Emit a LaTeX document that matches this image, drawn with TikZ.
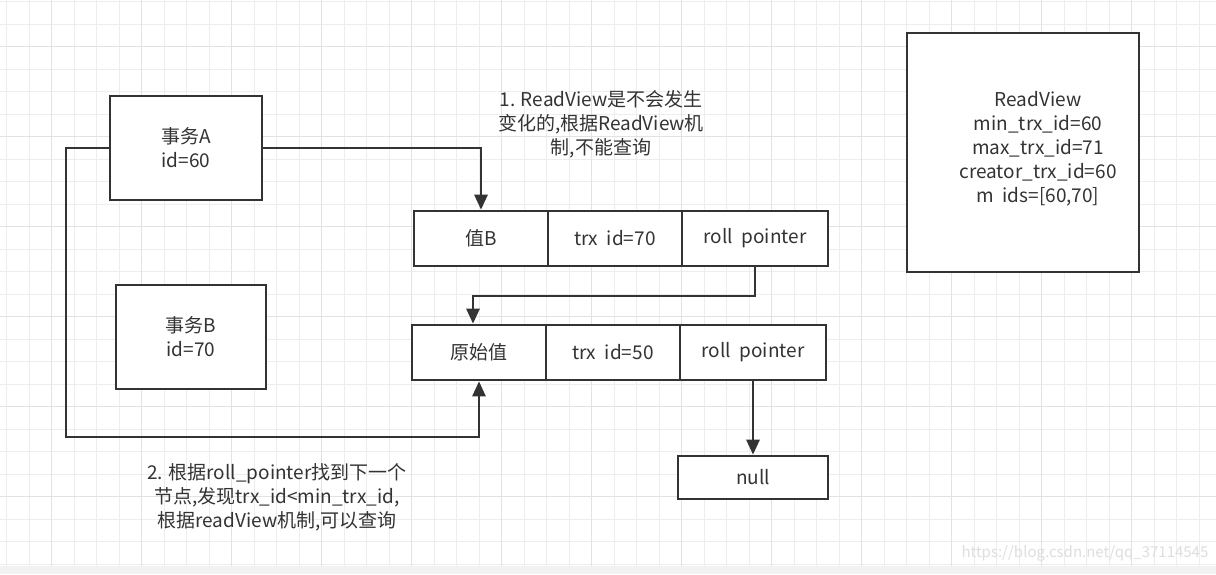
\documentclass[tikz,border=0pt]{standalone}
\usepackage{fontspec}
\newfontfamily\cjk{Noto Sans CJK SC}
\usetikzlibrary{arrows.meta,calc}
\definecolor{ink}{HTML}{333333}
\definecolor{gridminor}{HTML}{EDEDED}
\definecolor{gridmajor}{HTML}{E2E2E2}
\tikzset{
  every node/.style={font=\cjk\fontsize{19}{24}\selectfont, text=ink},
  box/.style={draw=ink, line width=2.6pt, fill=white, rectangle, inner sep=0pt},
  cell/.style={box, minimum height=55pt},
  conn/.style={draw=ink, line width=2.6pt, -{Triangle[length=15pt,width=13pt]}},
  plain/.style={align=center, inner sep=0pt},
}
\begin{document}
\begin{tikzpicture}[x=1pt,y=-1pt]
\useasboundingbox (0,0) rectangle (1216,574);
\fill[white] (0,0) rectangle (1216,574);
% grid
\foreach \i in {0,...,53} {
  \draw[gridminor, line width=1pt] ({6.5+22.5*\i},0) -- ({6.5+22.5*\i},566);
}
\foreach \j in {0,...,25} {
  \draw[gridminor, line width=1pt] (0,{1.7+22.5*\j}) -- (1216,{1.7+22.5*\j});
}
\foreach \i in {0,...,13} {
  \draw[gridmajor, line width=1pt] ({51.5+90*\i},0) -- ({51.5+90*\i},566);
}
\foreach \j in {0,...,6} {
  \draw[gridmajor, line width=1pt] (0,{46.7+90*\j}) -- (1216,{46.7+90*\j});
}
\fill[black!5] (0,566) rectangle (1216,574);

% transaction boxes
\node[box, minimum width=152pt, minimum height=104pt, align=center] (A) at (186,148) {事务A\\id=60};
\node[box, minimum width=150pt, minimum height=104pt, align=center] (B) at (191,337) {事务B\\id=70};

% ReadView box
\node[box, minimum width=232pt, minimum height=239pt] (RV) at (1023,152.5) {};
\node[plain] (RVt) at (1038,149) {ReadView\\min\_trx\_id=60\\max\_trx\_id=71\\creator\_trx\_id=60\\m\ \ ids=[60,70]};

% row 1
\node[cell, minimum width=134pt] (v1) at (481,238.5) {值B};
\node[cell, minimum width=134pt] (t1) at (615,238.5) {trx\ \ id=70};
\node[cell, minimum width=146pt] (r1) at (755,238.5) {roll\ \ pointer};

% row 2
\node[cell, minimum width=134pt] (v2) at (479,352.5) {原始值};
\node[cell, minimum width=134pt] (t2) at (613,352.5) {trx\ \ id=50};
\node[cell, minimum width=146pt] (r2) at (753,352.5) {roll\ \ pointer};

% null
\node[box, minimum width=150pt, minimum height=43pt] (null) at (753,477.5) {null};

% annotations
\node[plain] (n1) at (601,124) {1. ReadView是不会发生\\变化的,根据ReadView机\\制,不能查询};
\node[plain] (n2) at (277,497) {2. 根据roll\_pointer找到下一个\\节点,发现trx\_id<min\_trx\_id,\\根据readView机制,可以查询};
\node[plain, text=black!13, font=\cjk\fontsize{15}{18}\selectfont] (wm) at (1085,553) {https://blog.csdn.net/qq\_37114545};

% connectors
\coordinate (c2) at (473,296);
\coordinate (c3a) at (66,148);
\coordinate (c3b) at (66,437);
\draw[conn] (A.east) -| (v1.north);
\draw[conn] (r1.south) |- (c2) -- (c2 |- v2.north);
\draw[conn] (A.west) -- (c3a) -- (c3b) -| (v2.south);
\draw[conn] (r2.south) -- (null.north);
\end{tikzpicture}
\end{document}
